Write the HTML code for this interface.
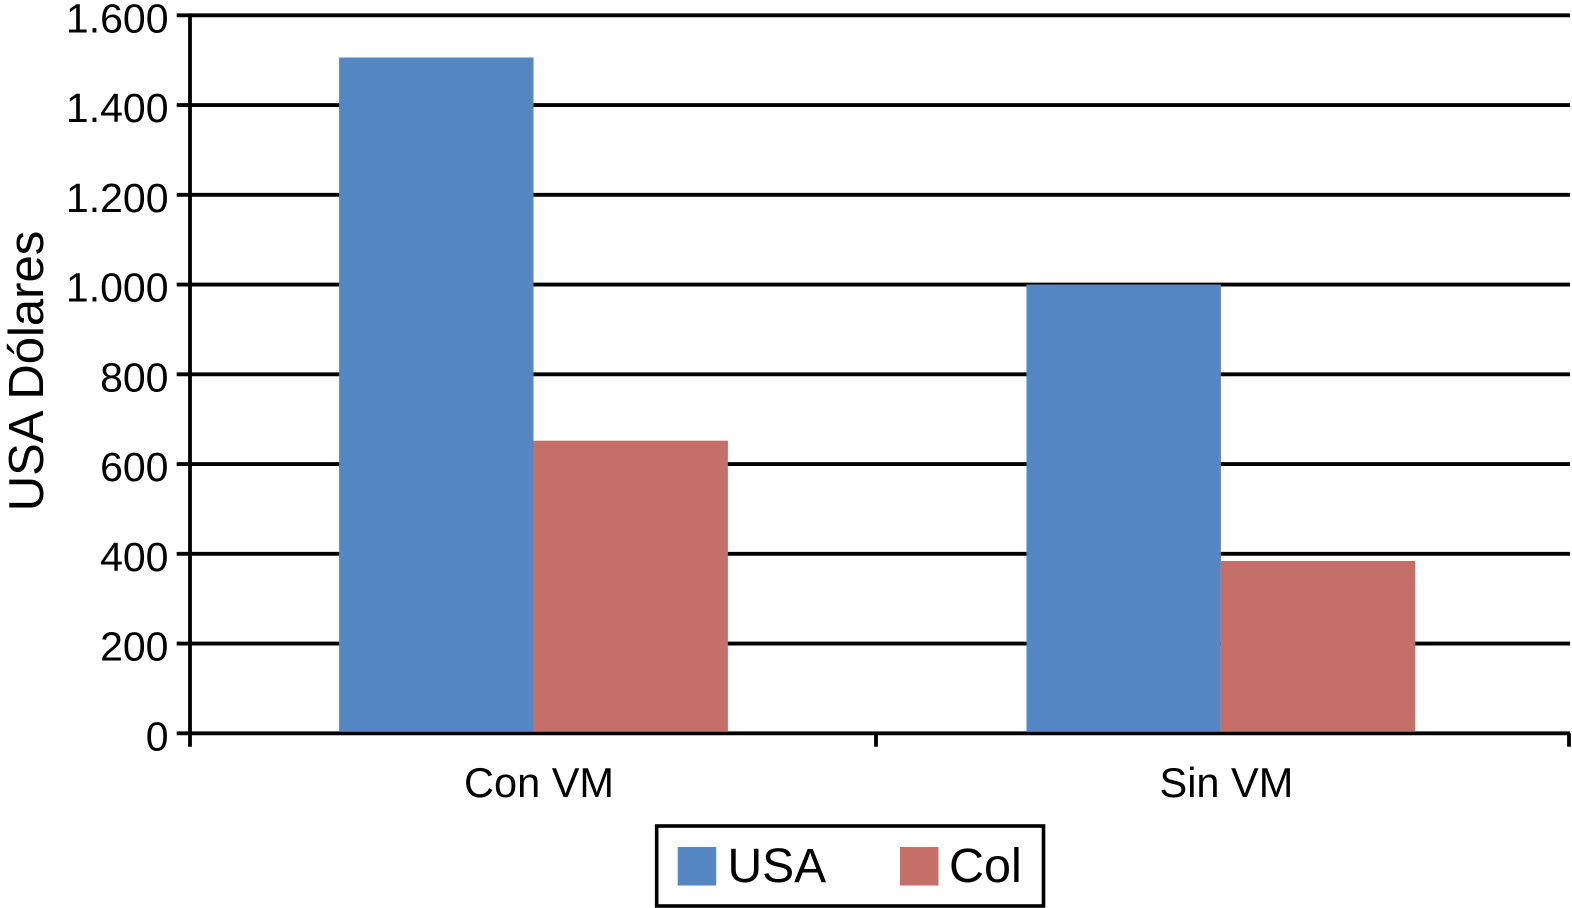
<!DOCTYPE html>
<html lang="es">
<head>
<meta charset="utf-8">
<title>USA Dólares</title>
<style>
html,body{margin:0;padding:0;background:#fff;width:1572px;height:908px;overflow:hidden}
svg{display:block;font-family:"Liberation Sans",sans-serif;fill:#000}
</style>
</head>
<body>
<svg id="chart" xmlns="http://www.w3.org/2000/svg" width="1572" height="908" viewBox="0 0 1572 908">
  <rect x="0" y="0" width="1572" height="908" fill="#fff"/>
  <g id="grid"></g>
  <g id="bars"></g>
  <g id="axes"></g>
  <text transform="translate(43,371) rotate(-90)" text-anchor="middle" font-size="49">USA Dólares</text>
  <g>
    <rect x="656.7" y="826" width="386.8" height="80" fill="#fff" stroke="#000" stroke-width="3.6"/>
    <rect x="677.7" y="847" width="38.5" height="38.5" fill="#5588c2"/>
    <text x="727.5" y="882" font-size="48">USA</text>
    <rect x="900" y="847" width="38.5" height="38.5" fill="#c56f69"/>
    <text x="949" y="882" font-size="48.5">Col</text>
  </g>
</svg>
<script>
const categories = ['Con VM', 'Sin VM'];
const usaValues = [1506, 1000];
const colValues = [652, 384];
const tickValues = [0, 200, 400, 600, 800, 1000, 1200, 1400, 1600];
const tickLabels = ['0', '200', '400', '600', '800', '1.000', '1.200', '1.400', '1.600'];

const NS = 'http://www.w3.org/2000/svg';
const plotLeft = 190, plotRight = 1570, plotTop = 15.3, plotBottom = 733.3;
const axisMax = 1600;
const firstCenter = 533.5, categoryStep = 687.4;
const barWidth = 194.4;

function yScale(v) { return plotBottom - (v / axisMax) * (plotBottom - plotTop); }
function xCenter(i) { return firstCenter + i * categoryStep; }

function make(tag, attrs, parent, text) {
  const el = document.createElementNS(NS, tag);
  for (const k in attrs) el.setAttribute(k, attrs[k]);
  if (text !== undefined) el.textContent = text;
  parent.appendChild(el);
  return el;
}

const gridG = document.getElementById('grid');
const barsG = document.getElementById('bars');
const axesG = document.getElementById('axes');

tickValues.forEach((v, i) => {
  const y = yScale(v);
  const line = make('line', {x1: 176.7, x2: plotRight, y1: y, y2: y, stroke: '#000', 'stroke-width': 3.8}, gridG);
  
  
  const label = make('text', {x: 168.5, y: y + 17, 'text-anchor': 'end', 'font-size': 41}, axesG, tickLabels[i]);
  
  
});

categories.forEach((c, i) => {
  const center = xCenter(i);
  const usaBar = make('rect', {x: center - barWidth, y: yScale(usaValues[i]), width: barWidth, height: plotBottom - 1.5 - yScale(usaValues[i]), fill: '#5588c2'}, barsG);
  
  
  const colBar = make('rect', {x: center, y: yScale(colValues[i]), width: barWidth, height: plotBottom - 1.5 - yScale(colValues[i]), fill: '#c56f69'}, barsG);
  
  
  const label = make('text', {x: center + 5.5, y: 797, 'text-anchor': 'middle', 'font-size': 41.5}, axesG, c);
  
  
});

const yAxis = make('line', {x1: plotLeft, x2: plotLeft, y1: plotTop - 1.9, y2: 746.7, stroke: '#000', 'stroke-width': 3.8}, axesG);



for (let i = 1; i <= categories.length; i++) {
  const x = i === categories.length ? plotRight - 1 : (xCenter(i - 1) + xCenter(i)) / 2 - 1.2;
  const tick = make('line', {x1: x, x2: x, y1: plotBottom, y2: 746.7, stroke: '#000', 'stroke-width': 3.8}, axesG);
  
  
}
</script>
</body>
</html>
